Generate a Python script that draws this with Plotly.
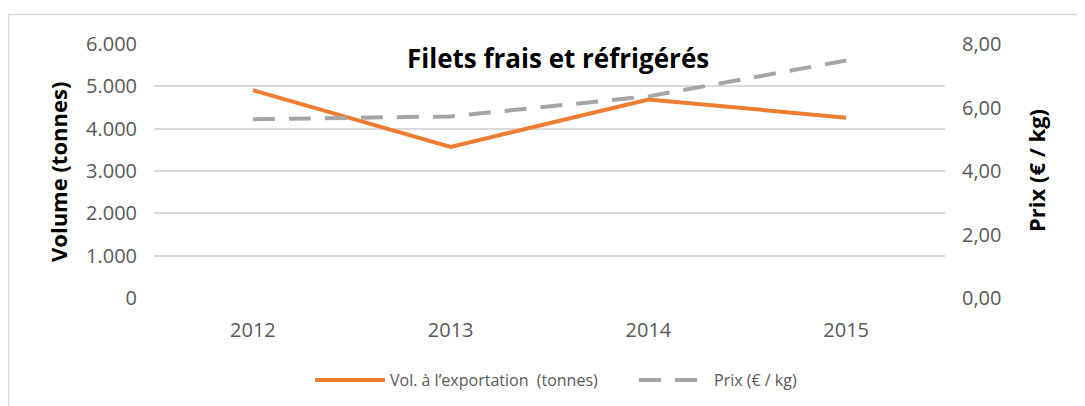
import plotly.graph_objects as go

years = ["2012", "2013", "2014", "2015"]
volume = [4910, 3570, 4690, 4260]
prix = [5.63, 5.72, 6.35, 7.48]
vol_ticks = [0, 1000, 2000, 3000, 4000, 5000, 6000]
prix_ticks = [0, 2, 4, 6, 8]

# target plot-area edges in page pixels; page body has an 8px default margin
O = 8
L, R, T, B = 154, 945, 43.5, 298.5
W, H = 1085 - O, 406 - O

def px(x):
    return (x - L) / (R - L)

def py(y):
    return (B - y) / (B - T)

fig = go.Figure()
fig.add_trace(go.Scatter(x=years, y=volume, mode="lines", name="Vol. à l’exportation  (tonnes)",
                         line=dict(color="#ED7D31", width=4), yaxis="y"))
fig.add_trace(go.Scatter(x=years, y=prix, mode="lines", name="Prix (€ / kg)",
                         line=dict(color="#A5A5A5", width=4, dash="22px,14px"), yaxis="y2"))

font = "Open Sans, Noto Sans, sans-serif"
fig.update_layout(
    width=W, height=H,
    margin=dict(l=L - O, r=W - (R - O), t=T - O, b=H - (B - O), autoexpand=False),
    paper_bgcolor="white", plot_bgcolor="white",
    separators=",.",
    font=dict(family=font, color="#595959", size=20),
    showlegend=True,
    legend=dict(orientation="h", x=px(310), xanchor="left", y=py(381), yanchor="middle",
                font=dict(size=16, color="#595959"), itemwidth=70, traceorder="normal",
                entrywidth=239),
    xaxis=dict(type="category", range=[-0.5, 3.5], showgrid=False, zeroline=False, showline=False,
               ticks="", ticklabelstandoff=18, tickfont=dict(size=20, color="#595959")),
    yaxis=dict(range=[0, 6000], tickvals=vol_ticks, tickformat=",d", showgrid=True,
               gridcolor="#D9D9D9", gridwidth=2, zeroline=False, showline=False, ticks="",
               ticklabelstandoff=16, tickfont=dict(size=20, color="#595959")),
    yaxis2=dict(range=[0, 8], tickvals=prix_ticks, tickformat=".2f", overlaying="y", side="right",
                showgrid=False, zeroline=False, showline=False, ticks="",
                ticklabelstandoff=16, tickfont=dict(size=20, color="#595959")),
)

fig.add_annotation(text="<b>Filets frais et réfrigérés</b>", xref="paper", yref="paper",
                   x=px(558), y=py(58), xanchor="center", yanchor="middle", showarrow=False,
                   font=dict(size=26, color="black", family=font))
fig.add_annotation(text="<b>Volume (tonnes)</b>", xref="paper", yref="paper",
                   x=px(58), y=py(172), xanchor="center", yanchor="middle", showarrow=False,
                   textangle=-90, font=dict(size=22, color="black", family=font))
fig.add_annotation(text="<b>Prix (€ / kg)</b>", xref="paper", yref="paper",
                   x=px(1036), y=py(171), xanchor="center", yanchor="middle", showarrow=False,
                   textangle=-90, font=dict(size=22, color="black", family=font))

fig.add_shape(type="rect", xref="paper", yref="paper",
              x0=px(8.5), x1=px(1100), y0=py(420), y1=py(14),
              line=dict(color="#D9D9D9", width=1.5), fillcolor="rgba(0,0,0,0)", layer="below")

fig.write_html("out.html")
